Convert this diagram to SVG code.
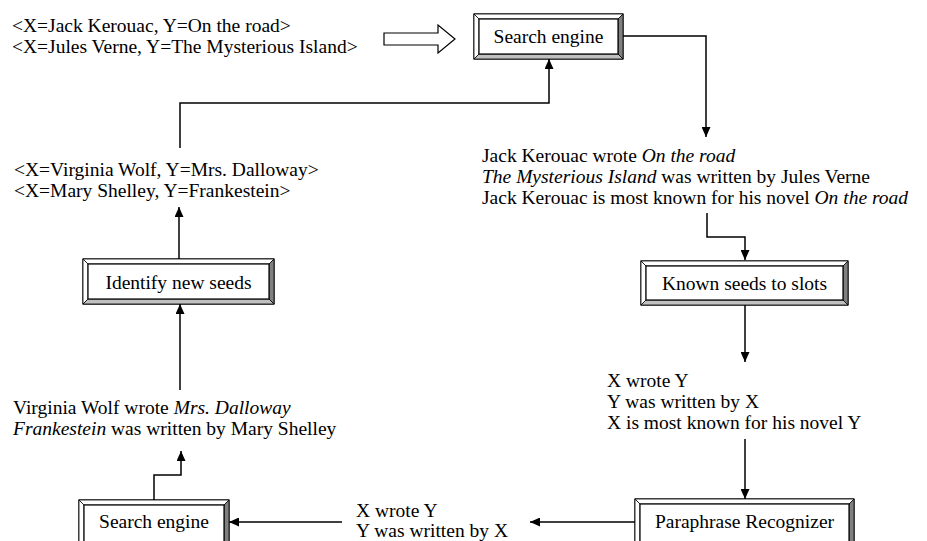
<svg xmlns="http://www.w3.org/2000/svg" width="927" height="541" viewBox="0 0 927 541">
<style>
text{font-family:"Liberation Serif","Times New Roman",serif;font-size:19.5px;fill:#000}
.c{text-anchor:middle}
.i{font-style:italic}
.outer{fill:#fff;stroke:#000;stroke-width:1.2}
.inner{fill:#fff;stroke:#000;stroke-width:1.2}
.bb{fill:#c0c0c0;stroke:#000;stroke-width:0.8}
.br{fill:#808080;stroke:#000;stroke-width:0.8}
.bt{fill:#fff;stroke:#000;stroke-width:0.8}
.conn{fill:none;stroke:#000;stroke-width:1.5}
</style>
<defs>
<marker id="ah" markerUnits="userSpaceOnUse" markerWidth="10" markerHeight="9" refX="10" refY="4.5" orient="auto">
<path d="M0,0 L10,4.5 L0,9 z" fill="#000"/>
</marker>
</defs>

<g id="input-seeds">
<text x="12" y="32">&lt;X=Jack Kerouac, Y=On the road&gt;</text>
<text x="12" y="53">&lt;X=Jules Verne, Y=The Mysterious Island&gt;</text>
</g>

<g id="block-arrow">
<polygon points="384,33 438,33 438,25 455,39 438,53 438,45 384,45" fill="#fff" stroke="#000" stroke-width="1.2"/>
</g>

<g id="search-engine-top">
<rect class="outer" x="474" y="14" width="149" height="45"/>
<polygon class="bt" points="474,14 623,14 618,19 479,19"/>
<polygon class="bt" points="474,14 479,19 479,54 474,59"/>
<polygon class="bb" points="474,59 479,54 618,54 623,59"/>
<polygon class="br" points="623,14 623,59 618,54 618,19"/>
<rect class="inner" x="479" y="19" width="139" height="35"/>
<text class="c" x="548.5" y="43">Search engine</text>
</g>

<g id="results-1">
<text x="482" y="162">Jack Kerouac wrote <tspan class="i">On the road</tspan></text>
<text x="482" y="183"><tspan class="i">The Mysterious Island</tspan> was written by Jules Verne</text>
<text x="482" y="204">Jack Kerouac is most known for his novel <tspan class="i">On the road</tspan></text>
</g>

<g id="known-seeds">
<rect class="outer" x="641" y="261" width="207" height="44"/>
<polygon class="bt" points="641,261 848,261 843,266 646,266"/>
<polygon class="bt" points="641,261 646,266 646,300 641,305"/>
<polygon class="bb" points="641,305 646,300 843,300 848,305"/>
<polygon class="br" points="848,261 848,305 843,300 843,266"/>
<rect class="inner" x="646" y="266" width="197" height="34"/>
<text class="c" x="744.5" y="290">Known seeds to slots</text>
</g>

<g id="patterns-1">
<text x="607" y="387">X wrote Y</text>
<text x="607" y="408">Y was written by X</text>
<text x="607" y="429">X is most known for his novel Y</text>
</g>

<g id="paraphrase">
<rect class="outer" x="635" y="499" width="219" height="46"/>
<polygon class="bt" points="635,499 854,499 849,504 640,504"/>
<polygon class="bt" points="635,499 640,504 640,545 635,545"/>
<polygon class="br" points="854,499 854,545 849,545 849,504"/>
<rect class="inner" x="640" y="504" width="209" height="41"/>
<text class="c" x="744.5" y="528">Paraphrase Recognizer</text>
</g>

<g id="patterns-2">
<text x="356" y="517">X wrote Y</text>
<text x="356" y="537">Y was written by X</text>
</g>

<g id="search-engine-bottom">
<rect class="outer" x="79" y="500" width="150" height="46"/>
<polygon class="bt" points="79,500 229,500 224,505 84,505"/>
<polygon class="bt" points="79,500 84,505 84,546 79,546"/>
<polygon class="br" points="229,500 229,546 224,546 224,505"/>
<rect class="inner" x="84" y="505" width="140" height="41"/>
<text class="c" x="154" y="528">Search engine</text>
</g>

<g id="results-2">
<text x="13" y="414">Virginia Wolf wrote <tspan class="i">Mrs. Dalloway</tspan></text>
<text x="13" y="435"><tspan class="i">Frankestein</tspan> was written by Mary Shelley</text>
</g>

<g id="identify-new-seeds">
<rect class="outer" x="83" y="259" width="191" height="45"/>
<polygon class="bt" points="83,259 274,259 269,264 88,264"/>
<polygon class="bt" points="83,259 88,264 88,299 83,304"/>
<polygon class="bb" points="83,304 88,299 269,299 274,304"/>
<polygon class="br" points="274,259 274,304 269,299 269,264"/>
<rect class="inner" x="88" y="264" width="181" height="35"/>
<text class="c" x="178.5" y="289">Identify new seeds</text>
</g>

<g id="new-seeds">
<text x="14" y="176">&lt;X=Virginia Wolf, Y=Mrs. Dalloway&gt;</text>
<text x="14" y="197">&lt;X=Mary Shelley, Y=Frankestein&gt;</text>
</g>

<g id="connectors">
<path class="conn" d="M623,36 H706 V137" marker-end="url(#ah)"/>
<path class="conn" d="M707,213 V237 H745 V260" marker-end="url(#ah)"/>
<path class="conn" d="M745,305 V362" marker-end="url(#ah)"/>
<path class="conn" d="M745,439 V499" marker-end="url(#ah)"/>
<path class="conn" d="M635,522 H530" marker-end="url(#ah)"/>
<path class="conn" d="M342,522 H229" marker-end="url(#ah)"/>
<path class="conn" d="M154,500 V475 H181 V451" marker-end="url(#ah)"/>
<path class="conn" d="M180,390 V304" marker-end="url(#ah)"/>
<path class="conn" d="M179,259 V207" marker-end="url(#ah)"/>
<path class="conn" d="M180,148 V103 H549 V59" marker-end="url(#ah)"/>
</g>
</svg>
